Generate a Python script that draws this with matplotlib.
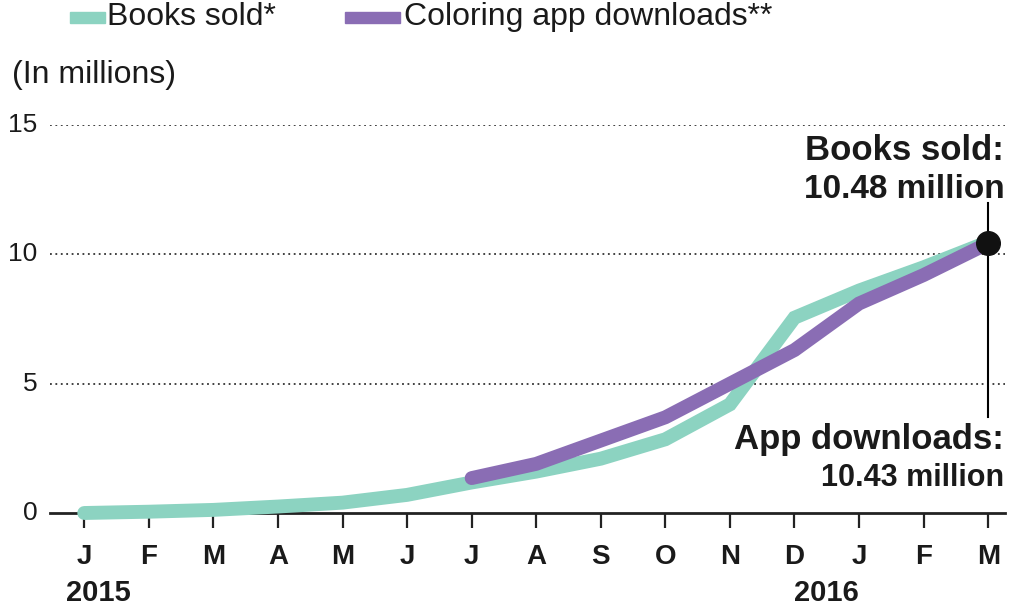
import matplotlib
matplotlib.use("Agg")
import matplotlib.pyplot as plt
from matplotlib.patches import Rectangle

months = ["J", "F", "M", "A", "M", "J", "J", "A", "S", "O", "N", "D", "J", "F", "M"]
years = ["2015", "2016"]
year_pos = [0.22, 11.5]
books = [0.0, 0.05, 0.12, 0.25, 0.4, 0.7, 1.18, 1.6, 2.1, 2.85, 4.2, 7.55, 8.6, 9.5, 10.48]
app_start = 6
app = [1.35, 1.9, 2.8, 3.7, 5.0, 6.3, 8.1, 9.2, 10.43]
yticks = [0, 5, 10, 15]

TEAL = "#8cd3c1"
PURPLE = "#8a6db4"
FONT = ["Liberation Sans", "DejaVu Sans"]
INK = "#1a1a1a"

fig = plt.figure(figsize=(10.12, 6.08), dpi=100)
W, H = 1012, 608
left, right = 50, 1005
bottom, top = 513, 125
ax = fig.add_axes([left / W, (H - bottom) / H, (right - left) / W, (bottom - top) / H])

x_books = list(range(len(books)))
x_app = list(range(app_start, app_start + len(app)))
ax.set_xlim(-0.53, 14.26)
ax.set_ylim(0, 15)

for y in yticks[1:]:
    ax.axhline(y, color="#333333", lw=1.3, ls=(0, (1, 2.0)), zorder=1)

ax.plot(x_books, books, color=TEAL, lw=10, solid_capstyle="round", solid_joinstyle="miter", clip_on=False, zorder=3)
ax.plot(x_app, app, color=PURPLE, lw=10, solid_capstyle="round", solid_joinstyle="miter", clip_on=False, zorder=4)

# end marker and leader line
xe = x_books[-1]
ax.plot([xe, xe], [3.7, 12.0], color="black", lw=1.5, zorder=5, clip_on=False)
ax.plot([xe], [app[-1]], "o", color="#111111", ms=17, zorder=6, clip_on=False)

ax.text(xe + 0.25, 14.0, "Books sold:", ha="right", va="center", fontsize=25, fontweight="bold", family=FONT, color=INK)
ax.text(xe + 0.25, 12.5, f"{books[-1]:.2f} million", ha="right", va="center", fontsize=24, fontweight="bold", family=FONT, color=INK)
ax.text(xe + 0.25, 2.85, "App downloads:", ha="right", va="center", fontsize=25, fontweight="bold", family=FONT, color=INK)
ax.text(xe + 0.25, 1.35, f"{app[-1]:.2f} million", ha="right", va="center", fontsize=22, fontweight="bold", family=FONT, color=INK)

for s in ["left", "right", "top"]:
    ax.spines[s].set_visible(False)
ax.spines["bottom"].set_linewidth(2)
ax.spines["bottom"].set_color("#222222")
ax.spines["bottom"].set_zorder(2)

ax.set_xticks(x_books)
ax.set_xticklabels(months, fontsize=20, fontweight="bold", family=FONT, color=INK)
ax.tick_params(axis="x", direction="out", length=11, width=1.6, color="#222222", pad=11)
ax.set_yticks(yticks)
ax.set_yticklabels([str(v) for v in yticks], fontsize=19, family=FONT, color=INK)
ax.tick_params(axis="y", length=0, pad=9)
for yl in ax.get_yticklabels():
    yl.set_va("center")

for yr, p in zip(years, year_pos):
    ax.text(p, -3.1, yr, ha="center", va="center", fontsize=21, fontweight="bold", family=FONT, color=INK, clip_on=False)

# header text
fig.text(12 / W, 1 - 75 / H, "(In millions)", ha="left", va="center", fontsize=23, family=FONT, color=INK)

# legend
fig.patches.append(Rectangle((70 / W, 1 - 23 / H), 35 / W, 11 / H, transform=fig.transFigure, color=TEAL))
fig.text(107 / W, 1 - 17 / H, "Books sold*", ha="left", va="center", fontsize=23, family=FONT, color=INK)
fig.patches.append(Rectangle((345 / W, 1 - 23 / H), 55 / W, 11 / H, transform=fig.transFigure, color=PURPLE))
fig.text(404 / W, 1 - 17 / H, "Coloring app downloads**", ha="left", va="center", fontsize=23, family=FONT, color=INK)

fig.savefig("out.png", dpi=100, facecolor="white")
